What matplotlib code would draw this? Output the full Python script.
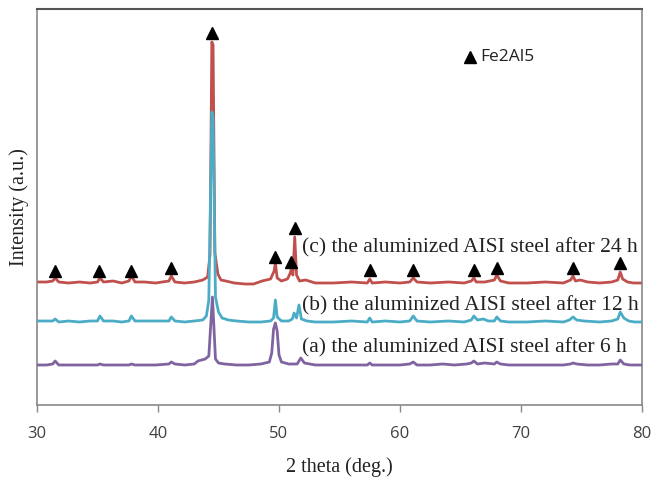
import matplotlib
matplotlib.use("Agg")
import matplotlib.pyplot as plt
import numpy as np

# 2-theta positions and intensities (a.u., baseline-relative)
two_theta_c = [30, 30.8, 31.3, 31.5, 31.8, 32.6, 33.5, 34.4, 35.0, 35.2, 35.5, 36.3, 37.0, 37.6, 37.8, 38.1,
               38.9, 39.8, 40.9, 41.1, 41.4, 42.2, 43.0, 43.7, 44.1, 44.3, 44.45, 44.55, 44.7, 44.95, 45.2, 45.6,
               46.3, 47.2, 47.9, 48.6, 49.3, 49.6, 49.7, 49.85, 50.2, 50.7, 50.9, 51.0, 51.15, 51.3, 51.45,
               51.7, 52.2, 53.0, 54.5, 56.0, 57.3, 57.5, 57.7, 58.8, 60.0, 60.8, 61.1, 61.4, 62.5, 64.0,
               65.3, 65.9, 66.1, 66.3, 67.0, 67.8, 68.0, 68.3, 69.0, 70.5, 72.0, 73.5, 74.1, 74.3, 74.5,
               74.9, 75.5, 76.5, 77.5, 78.0, 78.2, 78.4, 78.8, 79.3, 80]
intensity_c = [1, 1, 2, 5, 1, 0, 1, 0, 1, 5, 1, 2, 0, 2, 7, 1,
               1, 0, 2, 7, 1, 0, 1, 3, 6, 28, 241, 238, 30, 9, 3, 2,
               0, -1, -1, 2, 4, 12, 20, 5, 2, 4, 9, 13, 8, 46, 8,
               2, 3, 0, 0, 1, 0, 4, 0, 1, 0, 1, 5, 1, 0, 1,
               0, 2, 5, 1, 1, 3, 8, 2, 0, 0, 1, 0, 3, 7, 2,
               3, 1, 0, 1, 3, 11, 4, 1, 0, 0]

two_theta_b = [30, 30.8, 31.3, 31.5, 31.8, 32.6, 33.5, 34.4, 35.0, 35.2, 35.5, 36.3, 37.0, 37.6, 37.8, 38.1,
               38.9, 39.8, 40.9, 41.1, 41.4, 42.2, 43.0, 43.7, 44.0, 44.2, 44.45, 44.55, 44.75, 45.0, 45.3, 45.8,
               46.5, 47.5, 48.5, 49.3, 49.55, 49.7, 49.85, 50.2, 50.8, 51.1, 51.25, 51.45, 51.65, 51.85, 52.3,
               53.0, 54.5, 56.0, 57.3, 57.5, 57.7, 58.8, 60.0, 60.8, 61.1, 61.4, 62.5, 64.0, 65.3, 65.9,
               66.1, 66.4, 66.9, 67.3, 67.8, 68.0, 68.3, 69.0, 70.5, 72.0, 73.5, 74.0, 74.3, 74.6, 75.2,
               76.5, 77.5, 78.0, 78.2, 78.5, 78.9, 79.4, 80]
intensity_b = [1, 1, 1, 3, 0, 1, 0, 1, 1, 6, 1, 1, 0, 1, 6, 1,
               1, 1, 1, 5, 1, 0, 1, 2, 6, 22, 210, 205, 25, 10, 4, 2,
               1, 0, 0, 1, 4, 22, 5, 1, 1, 3, 9, 4, 17, 3, 1,
               0, 0, 1, 0, 4, 0, 1, 0, 1, 6, 1, 0, 1, 0, 2,
               6, 2, 3, 1, 1, 5, 1, 0, 0, 1, 0, 2, 5, 2, 1,
               0, 1, 3, 10, 4, 1, 0, 0]

two_theta_a = [30, 30.8, 31.3, 31.5, 31.8, 32.6, 33.5, 34.4, 35.0, 35.2, 35.5, 36.3, 37.0, 37.6, 37.8, 38.1,
               38.9, 39.8, 40.9, 41.1, 41.4, 42.2, 43.0, 43.3, 43.6, 43.9, 44.2, 44.5, 44.75, 45.0, 45.5,
               46.5, 47.5, 48.5, 49.2, 49.4, 49.55, 49.7, 49.85, 50.0, 50.2, 50.8, 51.5, 51.8, 52.1, 53.0,
               54.5, 56.0, 57.3, 57.5, 57.7, 58.8, 60.0, 60.8, 61.1, 61.4, 62.5, 63.5, 64.5, 65.5, 65.9,
               66.1, 66.4, 67.0, 67.8, 68.0, 68.3, 69.0, 70.5, 72.0, 73.5, 74.1, 74.3, 74.6, 75.5, 76.5,
               77.5, 78.0, 78.2, 78.5, 79.0, 80]
intensity_a = [0, 0, 1, 4, 0, 0, 0, 0, 0, 1, 0, 0, 0, 0, 1, 0,
               0, 0, 1, 3, 1, 0, 1, 4, 5, 6, 9, 68, 6, 2, 1,
               0, 0, 1, 3, 12, 36, 42, 34, 10, 3, 1, 1, 7, 2, 0,
               0, 0, 0, 2, 0, 0, 0, 1, 3, 0, 0, 1, 0, 1, 2,
               4, 1, 2, 1, 3, 1, 0, 0, 0, 0, 1, 2, 1, 0, 0,
               1, 1, 5, 1, 0, 0]

# Fe2Al5 marker positions (2-theta) and heights on the same scale
fe2al5_theta = [31.5, 35.1, 37.8, 41.1, 44.5, 49.7, 51.0, 51.3, 57.5, 61.1, 66.1, 68.0, 74.3, 78.2]
fe2al5_height = [134, 134, 134, 137, 372, 148, 143, 177, 135, 135, 135, 137, 137, 142]

labels = ["(c) the aluminized AISI steel after 24 h",
          "(b) the aluminized AISI steel after 12 h",
          "(a) the aluminized AISI steel after 6 h"]

offset_c, offset_b, offset_a = 122, 83, 40

red = "#C0504D"
cyan = "#4BACC6"
purple = "#8064A2"

fig = plt.figure(figsize=(6.52, 4.8), dpi=100)
ax = fig.add_axes([37 / 652, 75 / 480, 605 / 652, 396 / 480])

ax.plot(two_theta_c, np.array(intensity_c) + offset_c, color=red, lw=2, zorder=2)
ax.plot(two_theta_b, np.array(intensity_b) + offset_b, color=cyan, lw=2, zorder=3)
ax.plot(two_theta_a, np.array(intensity_a) + offset_a, color=purple, lw=2, zorder=4)

ax.plot(fe2al5_theta, fe2al5_height, ls="none", marker="^", color="black", ms=9, zorder=5)

txt = dict(family="Liberation Serif", fontsize=15.5, color="#222222", va="center", ha="left")
ax.text(51.9, 157, labels[0], **txt)
ax.text(51.9, 99, labels[1], **txt)
ax.text(51.9, 57, labels[2], **txt)

# legend entry
ax.plot([65.8], [348], ls="none", marker="^", color="black", ms=8)
ax.text(66.6, 348, "Fe2Al5", family="Open Sans", fontsize=12.5, color="#222222", va="center")

ax.set_xlim(30, 80)
ax.set_ylim(0, 396)
ax.set_xticks([30, 40, 50, 60, 70, 80])
ax.set_yticks([])
ax.tick_params(axis="x", direction="out", length=5, width=1, color="#888888",
               labelsize=12, labelcolor="#404040", pad=10)
for lab in ax.get_xticklabels():
    lab.set_family("Open Sans")

for side in ["left", "bottom", "right"]:
    ax.spines[side].set_color("#888888")
    ax.spines[side].set_linewidth(1.2)
ax.spines["top"].set_color("#555555")
ax.spines["top"].set_linewidth(1.5)

ax.set_xlabel("2 theta (deg.)", family="Liberation Serif", fontsize=14.5, color="#222222", labelpad=11)
ax.set_ylabel("Intensity (a.u.)", family="Liberation Serif", fontsize=14.5, color="#222222", labelpad=6)

fig.savefig("out.png", dpi=100)
